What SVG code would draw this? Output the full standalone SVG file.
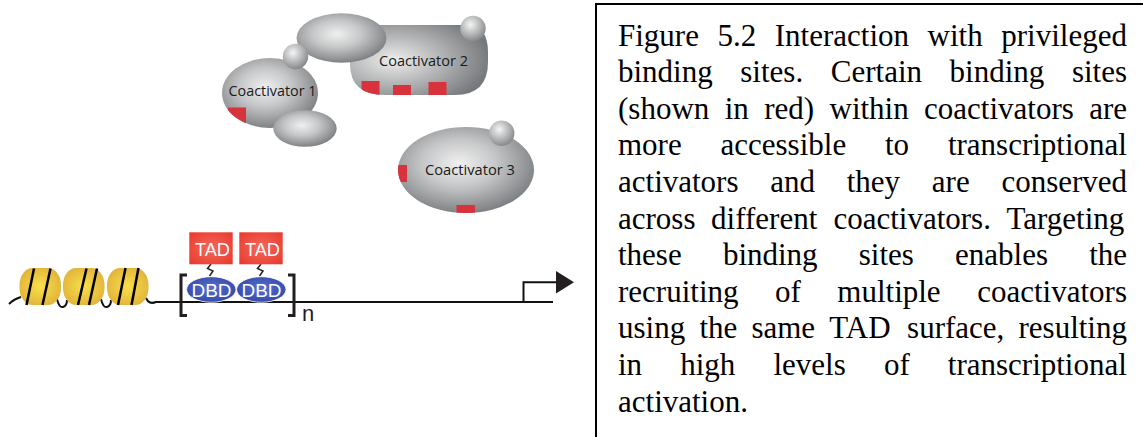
<svg xmlns="http://www.w3.org/2000/svg" width="1143" height="437" viewBox="0 0 1143 437">
  <defs>
    <radialGradient id="grayBody" cx="0.45" cy="0.42" r="0.6">
      <stop offset="0" stop-color="#f0f0f0"/>
      <stop offset="0.45" stop-color="#c6c7c8"/>
      <stop offset="1" stop-color="#7b7e81"/>
    </radialGradient>
    <radialGradient id="grayWide" cx="0.32" cy="0.5" r="0.7">
      <stop offset="0" stop-color="#eeeeee"/>
      <stop offset="0.45" stop-color="#b8b9ba"/>
      <stop offset="1" stop-color="#76797c"/>
    </radialGradient>
    <radialGradient id="sphere" cx="0.4" cy="0.35" r="0.65">
      <stop offset="0" stop-color="#f5f5f5"/>
      <stop offset="1" stop-color="#888a8c"/>
    </radialGradient>
    <radialGradient id="yellow" cx="0.5" cy="0.5" r="0.6">
      <stop offset="0" stop-color="#f9e04a"/>
      <stop offset="1" stop-color="#e0b03a"/>
    </radialGradient>
    <radialGradient id="red" cx="0.5" cy="0.5" r="0.7">
      <stop offset="0" stop-color="#f46a5c"/>
      <stop offset="1" stop-color="#e8382c"/>
    </radialGradient>
    <radialGradient id="blue" cx="0.5" cy="0.45" r="0.6">
      <stop offset="0" stop-color="#5a6fcc"/>
      <stop offset="1" stop-color="#3447a8"/>
    </radialGradient>
    <clipPath id="clipC1"><ellipse cx="270" cy="93" rx="48" ry="35"/></clipPath>
    <clipPath id="clipC2"><path d="M360,25 L466,25 Q488,25 488,52 L488,62 Q488,95 455,95 L385,95 Q350,95 350,64 L350,42 Q350,25 360,25 Z"/></clipPath>
    <clipPath id="clipC3"><ellipse cx="466" cy="170" rx="68" ry="43"/></clipPath>
  </defs>
  <style>
    .site { fill: #d8323c; }
    .label { font-family: "Open Sans", "Liberation Sans", sans-serif; font-size: 14px; fill: #1a1a1a; }
    .wire { fill: none; stroke: #111; stroke-width: 2; }
    .stripe { stroke: #000; stroke-width: 2.5; }
    .tag { font-family: "Liberation Sans", Arial, sans-serif; font-size: 19px; fill: #fff; }
    .cap { font-family: "Liberation Serif", "Times New Roman", serif; font-size: 31px; fill: #000; }
  </style>

  <!-- Coactivator 2: rounded body, its binding sites and small sphere -->
  <g id="coactivator2">
    <path d="M360,25 L466,25 Q488,25 488,52 L488,62 Q488,95 455,95 L385,95 Q350,95 350,64 L350,42 Q350,25 360,25 Z" fill="url(#grayWide)"/>
    <g clip-path="url(#clipC2)">
      <rect class="site" x="361.5" y="81" width="18" height="16"/>
      <rect class="site" x="393" y="85" width="18" height="12"/>
      <rect class="site" x="428.5" y="82" width="18" height="15"/>
    </g>
    <circle cx="473" cy="28.5" r="12.7" fill="url(#sphere)"/>
    <text class="label" x="379" y="66" textLength="89" lengthAdjust="spacingAndGlyphs">Coactivator 2</text>
  </g>

  <!-- unlabelled domain bridging coactivators 1 and 2 -->
  <g id="bridge-domain">
    <ellipse cx="341.5" cy="38" rx="45" ry="24.7" fill="url(#grayBody)"/>
  </g>

  <!-- Coactivator 1 -->
  <g id="coactivator1">
    <ellipse cx="270" cy="93" rx="48" ry="35" fill="url(#grayBody)"/>
    <g clip-path="url(#clipC1)">
      <rect class="site" x="228" y="107.5" width="18" height="20"/>
    </g>
    <ellipse cx="305" cy="128.5" rx="31.7" ry="18.3" fill="url(#grayBody)"/>
    <circle cx="295.5" cy="56.5" r="12.7" fill="url(#sphere)"/>
    <text class="label" x="228.5" y="96" textLength="88" lengthAdjust="spacingAndGlyphs">Coactivator 1</text>
  </g>

  <!-- Coactivator 3 -->
  <g id="coactivator3">
    <ellipse cx="466" cy="170" rx="68" ry="43" fill="url(#grayBody)"/>
    <g clip-path="url(#clipC3)">
      <rect class="site" x="396" y="165" width="11" height="17"/>
      <rect class="site" x="456.5" y="205" width="18.5" height="12"/>
    </g>
    <circle cx="501.7" cy="133.3" r="12.7" fill="url(#sphere)"/>
    <text class="label" x="425" y="175" textLength="90" lengthAdjust="spacingAndGlyphs">Coactivator 3</text>
  </g>

  <!-- DNA strand, wrapping loops and promoter -->
  <g id="connectors">
    <path class="wire" d="M9,304 Q14,299 21,297"/>
    <path class="wire" d="M57,299 Q59,308 63,307 Q67,306 67,300"/>
    <path class="wire" d="M101,299 Q103,308 107,307 Q111,306 111,300"/>
    <path class="wire" d="M146,298 Q149,305 156,302 L553,302"/>
    <path class="wire" d="M523.5,302 L523.5,282.3 L558,282.3"/>
    <polygon points="556,271 574,282.3 556,293.5" fill="#231f20"/>
    <path id="linker1" fill="none" stroke="#222" stroke-width="1.5" d="M211,264 L207.5,268.5 L213,271 L209.5,276"/>
    <path id="linker2" fill="none" stroke="#222" stroke-width="1.5" d="M261,264 L257.5,268.5 L263,271 L259.5,276"/>
  </g>

  <!-- nucleosomes -->
  <g id="nucleosomes">
    <rect x="19.5" y="268" width="41.5" height="37" rx="13" ry="17" fill="url(#yellow)"/>
    <rect x="63" y="268" width="41.5" height="37" rx="13" ry="17" fill="url(#yellow)"/>
    <rect x="107" y="268" width="41.5" height="37" rx="13" ry="17" fill="url(#yellow)"/>
    <line class="stripe" x1="34" y1="268.5" x2="26.5" y2="305"/>
    <line class="stripe" x1="50.5" y1="268.5" x2="42.5" y2="305"/>
    <line class="stripe" x1="86.5" y1="268.5" x2="78" y2="305"/>
    <line class="stripe" x1="97" y1="268.5" x2="89" y2="305"/>
    <line class="stripe" x1="125.5" y1="268" x2="118" y2="305"/>
    <line class="stripe" x1="138.5" y1="268" x2="131.5" y2="305"/>
  </g>

  <!-- repeated activator unit: TAD tethered to DBD -->
  <g id="activator1">
    <rect x="189.3" y="232.3" width="43.4" height="32" fill="url(#red)"/>
    <text class="tag" x="195" y="256" textLength="35" lengthAdjust="spacingAndGlyphs">TAD</text>
    <ellipse cx="211.3" cy="289.5" rx="24.7" ry="12.8" fill="url(#blue)" stroke="#fff" stroke-width="0.8"/>
    <text class="tag" x="191.5" y="297" textLength="40" lengthAdjust="spacingAndGlyphs">DBD</text>
  </g>
  <g id="activator2">
    <rect x="239.3" y="232.3" width="43.4" height="32" fill="url(#red)"/>
    <text class="tag" x="245" y="256" textLength="35" lengthAdjust="spacingAndGlyphs">TAD</text>
    <ellipse cx="261.3" cy="289.5" rx="24.7" ry="12.8" fill="url(#blue)" stroke="#fff" stroke-width="0.8"/>
    <text class="tag" x="241.5" y="297" textLength="40" lengthAdjust="spacingAndGlyphs">DBD</text>
  </g>

  <!-- repeat brackets -->
  <g id="repeat-bracket">
    <path fill="none" stroke="#231f20" stroke-width="3" d="M187,275 L181,275 L181,315.5 L187,315.5"/>
    <path fill="none" stroke="#231f20" stroke-width="3" d="M288,275 L294,275 L294,315.5 L288,315.5"/>
    <text x="302" y="321" font-family="'Liberation Sans', Arial, sans-serif" font-size="22" fill="#231f20">n</text>
  </g>

  <!-- caption box -->
  <g id="caption">
    <rect x="596" y="4" width="560" height="445" fill="none" stroke="#000" stroke-width="2"/>
    <text class="cap" y="45.5"><tspan x="618">Figure</tspan><tspan x="717.5">5.2</tspan><tspan x="774.8">Interaction</tspan><tspan x="927.6">with</tspan><tspan x="1001.3">privileged</tspan></text>
    <text class="cap" y="82.1"><tspan x="618">binding</tspan><tspan x="740.3">sites.</tspan><tspan x="830.8">Certain</tspan><tspan x="949.6">binding</tspan><tspan x="1071.9">sites</tspan></text>
    <text class="cap" y="118.7"><tspan x="618">(shown</tspan><tspan x="724.7">in</tspan><tspan x="764.2">red)</tspan><tspan x="829.5">within</tspan><tspan x="924.1">coactivators</tspan><tspan x="1089.2">are</tspan></text>
    <text class="cap" y="155.3"><tspan x="618">more</tspan><tspan x="720.5">accessible</tspan><tspan x="885">to</tspan><tspan x="947.9">transcriptional</tspan></text>
    <text class="cap" y="191.9"><tspan x="618">activators</tspan><tspan x="770.2">and</tspan><tspan x="846.7">they</tspan><tspan x="931.8">are</tspan><tspan x="1001.4">conserved</tspan></text>
    <text class="cap" y="228.5"><tspan x="618">across</tspan><tspan x="711.1">different</tspan><tspan x="833.4">coactivators.</tspan><tspan x="1006.5">Targeting</tspan></text>
    <text class="cap" y="265.1"><tspan x="618">these</tspan><tspan x="722.9">binding</tspan><tspan x="858.8">sites</tspan><tspan x="955">enables</tspan><tspan x="1089.2">the</tspan></text>
    <text class="cap" y="301.7"><tspan x="618">recruiting</tspan><tspan x="775">of</tspan><tspan x="837.3">multiple</tspan><tspan x="977.2">coactivators</tspan></text>
    <text class="cap" y="338.3"><tspan x="618">using</tspan><tspan x="699.4">the</tspan><tspan x="751.4">same</tspan><tspan x="829.3">TAD</tspan><tspan x="907.1">surface,</tspan><tspan x="1018.5">resulting</tspan></text>
    <text class="cap" y="374.9"><tspan x="618">in</tspan><tspan x="680.2">high</tspan><tspan x="773.4">levels</tspan><tspan x="883.9">of</tspan><tspan x="947.8">transcriptional</tspan></text>
    <text class="cap" y="411.5" x="618">activation.</text>
  </g>
</svg>
